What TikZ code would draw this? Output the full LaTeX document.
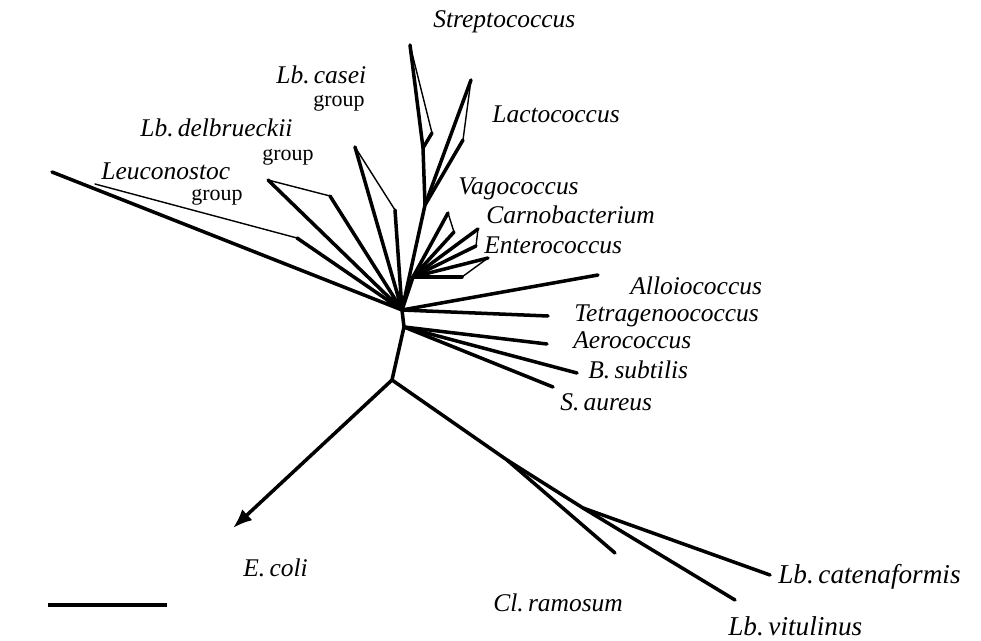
\documentclass[tikz,border=0pt]{standalone}
\usepackage{fontspec}
\setmainfont{Liberation Serif}
\usetikzlibrary{arrows.meta}

\begin{document}
\begin{tikzpicture}[x=0.02cm,y=-0.02cm,>={Latex[length=11pt,width=8.5pt]},
  branch/.style={line width=2pt,line cap=round,line join=round},
  fine/.style={line width=0.8pt,line cap=round},
  taxon/.style={anchor=base west,inner sep=0pt,font=\fontsize{14.5}{17}\selectfont\itshape},
  bigtaxon/.style={taxon,font=\fontsize{15.5}{18}\selectfont\itshape},
  grp/.style={anchor=base west,inner sep=0pt,font=\fontsize{12.5}{14}\selectfont}]
  \useasboundingbox (0,0) rectangle (981,641);
  % internal nodes
  \coordinate (hub) at (402,310);
  \coordinate (hubl) at (404,327);
  \coordinate (root) at (392,380);
  \coordinate (nA) at (507,460);
  \coordinate (nB) at (583,508);
  \coordinate (stN) at (423,148);
  \coordinate (laN) at (425,205);
  \coordinate (vN) at (413,277);
  % tips
  \coordinate (ecoli) at (233,528);
  \coordinate (clram) at (615,553);
  \coordinate (lbcat) at (770,575);
  \coordinate (lbvit) at (735,600);
  \coordinate (allo) at (598,275);
  \coordinate (tetra) at (548,316);
  \coordinate (aero) at (547,344);
  \coordinate (bsub) at (577,373);
  \coordinate (saur) at (553,387);
  \coordinate (leuA) at (52,172);
  \coordinate (leuB) at (297,238);
  \coordinate (leuC) at (95,184);
  \coordinate (delA) at (268,180);
  \coordinate (delB) at (330,196);
  \coordinate (casA) at (355,147);
  \coordinate (casB) at (395,210);
  \coordinate (stA) at (410,45);
  \coordinate (stB) at (432,133);
  \coordinate (laA) at (471,80);
  \coordinate (laB) at (463,140);
  \coordinate (vaA) at (448,213);
  \coordinate (vaB) at (454,232);
  \coordinate (caA) at (478,229);
  \coordinate (caB) at (476,246);
  \coordinate (enA) at (488,258);
  \coordinate (enB) at (462,277);
  \coordinate (barL) at (48,605);
  \coordinate (barR) at (167,605);

  % outgroup side
  \draw[branch] (hub) -- (hubl) -- (root);
  \draw[branch,->] (root) -- (ecoli);
  \draw[branch] (root) -- (nA) -- (clram);
  \draw[branch] (nA) -- (nB) -- (lbcat);
  \draw[branch] (nB) -- (lbvit);
  \draw[branch] (hub) -- (allo);
  \draw[branch] (hub) -- (tetra);
  \draw[branch] (hubl) -- (aero);
  \draw[branch] (hubl) -- (bsub);
  \draw[branch] (hubl) -- (saur);

  % lactobacilli and relatives
  \draw[branch] (leuA) -- (hub) -- (leuB);
  \draw[fine] (leuB) -- (leuC);
  \draw[branch] (delA) -- (hub) -- (delB);
  \draw[fine] (delA) -- (delB);
  \draw[branch] (casA) -- (hub) -- (casB);
  \draw[fine] (casA) -- (casB);

  % streptococci
  \draw[branch] (hub) -- (laN) -- (stN) -- (stA);
  \draw[fine] (stA) -- (stB);
  \draw[branch] (stB) -- (stN);
  \draw[branch] (laN) -- (laA);
  \draw[fine] (laA) -- (laB);
  \draw[branch] (laB) -- (laN);
  \draw[branch] (hub) -- (vN);
  \draw[branch] (vN) -- (vaA);
  \draw[fine] (vaA) -- (vaB);
  \draw[branch] (vaB) -- (vN);
  \draw[branch] (vN) -- (caA);
  \draw[fine] (caA) -- (caB);
  \draw[branch] (caB) -- (vN);
  \draw[branch] (vN) -- (enA);
  \draw[fine] (enA) -- (enB);
  \draw[branch] (enB) -- (vN);

  % scale bar
  \draw[branch,line cap=butt] (barL) -- (barR);

  % labels
  \node[taxon] (tStrep) at (433,28) {Streptococcus};
  \node[taxon] (tLacto) at (492,123) {Lactococcus};
  \node[taxon] (tCasei) at (276,84) {Lb.\,casei};
  \node[grp] (gCasei) at (313,107) {group};
  \node[taxon] (tDelb) at (140,137) {Lb.\,delbrueckii};
  \node[grp] (gDelb) at (262,161) {group};
  \node[taxon] (tLeuc) at (101,180) {Leuconostoc};
  \node[grp] (gLeuc) at (191,201) {group};
  \node[taxon] (tVago) at (458,195) {Vagococcus};
  \node[taxon] (tCarno) at (486,224) {Carnobacterium};
  \node[taxon] (tEntero) at (484,254) {Enterococcus};
  \node[taxon] (tAllo) at (630,295) {Alloiococcus};
  \node[taxon] (tTetra) at (574,322) {Tetragenoococcus};
  \node[taxon] (tAero) at (573,349) {Aerococcus};
  \node[taxon] (tBsub) at (588,379) {B.\,subtilis};
  \node[taxon] (tSaur) at (560,411) {S.\,aureus};
  \node[taxon] (tEcoli) at (243,577) {E.\,coli};
  \node[taxon] (tClram) at (493,612) {Cl.\,ramosum};
  \node[bigtaxon] (tLbcat) at (778,584) {Lb.\,catenaformis};
  \node[bigtaxon] (tLbvit) at (728,636) {Lb.\,vitulinus};
\end{tikzpicture}
\end{document}
